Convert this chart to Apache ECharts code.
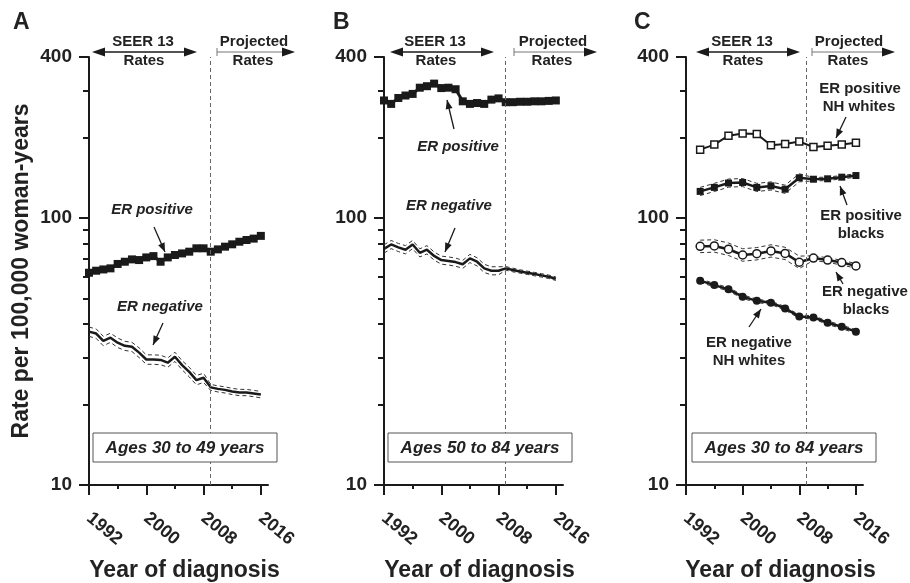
<!DOCTYPE html>
<html>
<head>
<meta charset="utf-8">
<title>ER positive / ER negative breast cancer incidence</title>
<script src="https://cdn.jsdelivr.net/npm/echarts@6/dist/echarts.min.js"></script>
<style>
  html, body { margin: 0; padding: 0; background: #fff; }
  #chart { width: 910px; height: 583px; }
</style>
</head>
<body>
<div id="chart"></div>
<script>
'use strict';

// x values
var yearsAB = [1992, 1993, 1994, 1995, 1996, 1997, 1998, 1999, 2000, 2001, 2002, 2003, 2004,
               2005, 2006, 2007, 2008, 2009, 2010, 2011, 2012, 2013, 2014, 2015, 2016];
var yearsC = [1994, 1996, 1998, 2000, 2002, 2004, 2006, 2008, 2010, 2012, 2014, 2016];

// tick labels
var xLabelYears = [1992, 2000, 2008, 2016];
var xMinorYears = [1996, 2004, 2012];
var yLabelValues = [10, 100, 400];
var yMinorValues = [20, 30, 40, 50, 60, 70, 80, 90, 200, 300];
var projectionStart = 2009;

// panel A: ages 30 to 49
var aPositive = [62.3, 63.4, 64.1, 64.7, 67.2, 68.5, 69.9, 69.5, 71.1, 71.9, 68.5, 71.1, 72.6,
                 73.6, 74.7, 76.9, 76.9, 74.7, 76.2, 78.0, 79.6, 81.4, 82.6, 83.6, 85.6];
var aNegative = [37.5, 36.9, 34.6, 35.6, 34.1, 33.2, 32.9, 31.3, 29.5, 29.5, 29.4, 28.7, 30.2,
                 28.1, 26.5, 24.7, 25.2, 23.2, 22.9, 22.7, 22.4, 22.2, 22.2, 22.0, 21.8];
var aNegativeUpper = [39.0, 38.4, 36.0, 37.0, 35.5, 34.5, 34.2, 32.6, 30.7, 30.7, 30.6, 29.9, 31.4,
                      29.2, 27.6, 25.7, 26.2, 23.8, 23.5, 23.3, 23.0, 22.8, 22.8, 22.6, 22.4];
var aNegativeLower = [36.0, 35.4, 33.2, 34.2, 32.7, 31.9, 31.6, 30.0, 28.3, 28.3, 28.2, 27.6, 29.0,
                      27.0, 25.4, 23.7, 24.2, 22.6, 22.3, 22.1, 21.8, 21.6, 21.6, 21.4, 21.2];

// panel B: ages 50 to 84
var bPositive = [275, 267, 281, 287, 291, 307, 311, 318, 306, 307, 303, 273, 267,
                 269, 267, 277, 280, 271, 271, 272, 272, 273, 273, 274, 275];
var bNegative = [76.5, 79.5, 77.5, 76.0, 79.5, 74.0, 76.0, 72.0, 69.5, 69.0, 68.3, 67.0, 70.5,
                 68.5, 64.7, 63.4, 63.4, 64.7, 63.8, 63.0, 62.3, 61.6, 60.9, 60.2, 59.2];
var bNegativeUpper = [79.2, 82.3, 80.2, 78.7, 82.3, 76.6, 78.7, 74.5, 71.9, 71.4, 70.7, 69.3, 73.0,
                      70.9, 67.0, 65.6, 65.6, 65.7, 64.8, 63.9, 63.2, 62.5, 61.8, 61.1, 60.1];
var bNegativeLower = [73.8, 76.7, 74.8, 73.3, 76.7, 71.4, 73.3, 69.5, 67.1, 66.6, 65.9, 64.7, 68.0,
                      66.1, 62.4, 61.2, 61.2, 63.7, 62.8, 62.1, 61.4, 60.7, 60.0, 59.3, 58.3];

// panel C: ages 30 to 84, by race
var cPosWhites = [180, 188, 203, 207, 206, 187, 189, 193, 184, 186, 188, 191];
var cPosBlacks = [125.6, 130.0, 135.0, 135.6, 130.0, 131.7, 128.0, 141.3, 139.5, 140.0, 142.0, 144.0];
var cPosBlacksUpper = [130.0, 134.6, 139.7, 140.3, 134.6, 136.3, 132.5, 146.2, 141.6, 142.1, 144.1, 146.2];
var cPosBlacksLower = [121.2, 125.5, 130.3, 130.9, 125.5, 127.1, 123.5, 136.4, 137.4, 137.9, 139.9, 141.8];
var cNegBlacks = [78.2, 78.5, 76.3, 72.6, 73.4, 75.2, 73.6, 68.2, 70.7, 69.5, 68.0, 66.1];
var cNegBlacksUpper = [82.5, 82.8, 80.5, 76.6, 77.4, 79.3, 77.6, 71.9, 72.1, 70.9, 69.4, 67.4];
var cNegBlacksLower = [74.1, 74.4, 72.3, 68.8, 69.6, 71.3, 69.8, 64.6, 69.3, 68.1, 66.6, 64.8];
var cNegWhites = [58.2, 56.0, 54.0, 50.7, 48.9, 48.1, 45.8, 42.7, 42.4, 40.5, 39.1, 37.5];
var cNegWhitesUpper = [59.1, 56.8, 54.8, 51.5, 49.6, 48.8, 46.5, 43.3, 43.0, 41.1, 39.7, 38.1];
var cNegWhitesLower = [57.3, 55.2, 53.2, 49.9, 48.2, 47.4, 45.1, 42.1, 41.8, 39.9, 38.5, 36.9];

var FONT = '"Liberation Sans", Arial, Helvetica, sans-serif';
var INK = '#1a1a1a';

var chart = echarts.init(document.getElementById('chart'), null, {renderer: 'canvas'});

function pairs(xs, ys) {
    return xs.map(function (x, i) { return [x, ys[i]]; });
}

// grid boxes of the three panels
var panels = [
    {left: 89, width: 179},
    {left: 384, width: 179},
    {left: 686, width: 177}
];

var grids = [], xAxes = [], yAxes = [];
panels.forEach(function (p, k) {
    grids.push({left: p.left, width: p.width, top: 57, height: 428, outerBoundsMode: 'none'});
    // main x axis: line, long ticks, labels
    xAxes.push({
        type: 'value', gridIndex: k, position: 'bottom', min: 1992, max: 2017, interval: 4,
        axisLine: {show: true, onZero: false, lineStyle: {color: INK, width: 2}},
        axisTick: {show: true, length: 10, customValues: xLabelYears, lineStyle: {color: INK, width: 2}},
        axisLabel: {
            customValues: xLabelYears, rotate: -40, margin: 31, color: '#222',
            fontSize: 18, fontWeight: 'bold', fontFamily: FONT,
            formatter: function (v) { return String(v); }
        },
        splitLine: {show: false},
        name: 'Year of diagnosis', nameLocation: 'middle', nameGap: 74, nameMoveOverlap: false,
        nameTextStyle: {fontSize: 23, fontWeight: 'bold', color: '#222', fontFamily: FONT, padding: [0, 0, 0, 12]}
    });
    // short ticks only
    xAxes.push({
        type: 'value', gridIndex: k, position: 'bottom', min: 1992, max: 2017, interval: 4,
        axisLine: {show: false},
        axisTick: {show: true, length: 4, customValues: xMinorYears, lineStyle: {color: INK, width: 2}},
        axisLabel: {show: false},
        splitLine: {show: false}
    });
    var yMain = {
        type: 'log', logBase: 10, gridIndex: k, position: 'left', min: 10, max: 400,
        axisLine: {show: true, onZero: false, lineStyle: {color: INK, width: 2}},
        axisTick: {show: true, length: 10, customValues: yLabelValues, lineStyle: {color: INK, width: 2}},
        axisLabel: {
            customValues: yLabelValues, margin: 17, color: '#222',
            fontSize: 19, fontWeight: 'bold', fontFamily: FONT
        },
        splitLine: {show: false}
    };
    if (k === 0) {
        yMain.name = 'Rate per 100,000 woman-years';
        yMain.nameLocation = 'middle';
        yMain.nameGap = 56;
        yMain.nameMoveOverlap = false;
        yMain.nameTextStyle = {fontSize: 23, fontWeight: 'bold', color: '#222', fontFamily: FONT};
    }
    yAxes.push(yMain);
    yAxes.push({
        type: 'log', logBase: 10, gridIndex: k, position: 'left', min: 10, max: 400,
        axisLine: {show: false},
        axisTick: {show: true, length: 6, customValues: yMinorValues, lineStyle: {color: INK, width: 2}},
        axisLabel: {show: false},
        splitLine: {show: false}
    });
});

var projLine = {
    silent: true, symbol: 'none', label: {show: false},
    lineStyle: {type: [4, 3], color: '#666', width: 1},
    data: [{xAxis: projectionStart}]
};

function markerLine(k, xs, ys, symbol, size, filled, width) {
    return {
        type: 'line', xAxisIndex: 2 * k, yAxisIndex: 2 * k, z: 4,
        data: pairs(xs, ys), symbol: symbol, symbolSize: size, showSymbol: true,
        lineStyle: {color: INK, width: width},
        itemStyle: filled ? {color: INK} : {color: '#fff', borderColor: INK, borderWidth: 1.5},
        silent: true
    };
}
function plainLine(k, xs, ys, width) {
    return {
        type: 'line', xAxisIndex: 2 * k, yAxisIndex: 2 * k, z: 4,
        data: pairs(xs, ys), symbol: 'none', lineStyle: {color: INK, width: width}, silent: true
    };
}
function ciLine(k, xs, ys) {
    return {
        type: 'line', xAxisIndex: 2 * k, yAxisIndex: 2 * k, z: 3,
        data: pairs(xs, ys), symbol: 'none', lineStyle: {color: '#333', width: 1, type: [4, 3]}, silent: true
    };
}

var series = [];
// A
var aLow = ciLine(0, yearsAB, aNegativeLower);
aLow.markLine = projLine;
series.push(aLow, ciLine(0, yearsAB, aNegativeUpper),
    plainLine(0, yearsAB, aNegative, 2.5),
    markerLine(0, yearsAB, aPositive, 'rect', 8, true, 3));
// B
var bLow = ciLine(1, yearsAB, bNegativeLower);
bLow.markLine = projLine;
series.push(bLow, ciLine(1, yearsAB, bNegativeUpper),
    plainLine(1, yearsAB, bNegative, 2.5),
    markerLine(1, yearsAB, bPositive, 'rect', 8, true, 3));
// C
var cLow = ciLine(2, yearsC, cNegBlacksLower);
cLow.markLine = projLine;
series.push(cLow, ciLine(2, yearsC, cNegBlacksUpper),
    ciLine(2, yearsC, cPosBlacksLower), ciLine(2, yearsC, cPosBlacksUpper),
    ciLine(2, yearsC, cNegWhitesLower), ciLine(2, yearsC, cNegWhitesUpper),
    markerLine(2, yearsC, cPosWhites, 'rect', 7, false, 2),
    markerLine(2, yearsC, cPosBlacks, 'rect', 7, true, 2.5),
    markerLine(2, yearsC, cNegBlacks, 'circle', 8, false, 2.5),
    markerLine(2, yearsC, cNegWhites, 'circle', 8, true, 2.5));

// ---- annotations ----
function text(x, y, str, size, italic, align) {
    return {
        type: 'text', x: x, y: y, silent: true, z: 10,
        style: {
            text: str, fill: '#222', fontSize: size, fontWeight: 'bold',
            fontStyle: italic ? 'italic' : 'normal', fontFamily: FONT,
            align: align || 'center', verticalAlign: 'middle'
        }
    };
}
function head(tx, ty, fx, fy, len, half, color) {
    var dx = tx - fx, dy = ty - fy, d = Math.sqrt(dx * dx + dy * dy);
    var ux = dx / d, uy = dy / d;
    var bx = tx - ux * len, by = ty - uy * len;
    return {
        type: 'polygon', silent: true, z: 10,
        shape: {points: [[tx, ty], [bx - uy * half, by + ux * half], [bx + uy * half, by - ux * half]]},
        style: {fill: color || INK}
    };
}
function seg(x1, y1, x2, y2, w, color) {
    return {
        type: 'line', silent: true, z: 10,
        shape: {x1: x1, y1: y1, x2: x2, y2: y2},
        style: {stroke: color || INK, lineWidth: w}
    };
}
function arrow(x1, y1, x2, y2) {
    return [seg(x1, y1, x2, y2, 1.3), head(x2, y2, x1, y1, 9, 3.5)];
}
function periodArrows(seerL, seerR, projL, projR, seerX, projX) {
    return [
        seg(seerL + 8, 52, seerR - 8, 52, 1.5),
        head(seerL, 52, seerR, 52, 13, 4.5),
        head(seerR, 52, seerL, 52, 13, 4.5),
        seg(projL, 48, projL, 56, 1, '#777'),
        seg(projL, 52, projR - 8, 52, 1.2, '#777'),
        head(projR, 52, projL, 52, 13, 4.5),
        text(seerX, 42, 'SEER 13', 15, false),
        text(seerX + 1, 61, 'Rates', 15, false),
        text(projX, 42, 'Projected', 15, false),
        text(projX - 1, 61, 'Rates', 15, false)
    ];
}
function ageBox(x, label) {
    return [
        {type: 'rect', silent: true, z: 9, shape: {x: x, y: 433, width: 184, height: 29},
         style: {fill: '#fff', stroke: '#555', lineWidth: 1}},
        text(x + 92, 448, label, 17, true)
    ];
}

var graphics = [].concat(
    text(13, 23, 'A', 23, false, 'left'),
    text(333, 23, 'B', 23, false, 'left'),
    text(634, 23, 'C', 23, false, 'left'),
    periodArrows(92, 197, 217, 295, 143, 254),
    periodArrows(390, 494, 514, 597, 435, 553),
    periodArrows(696, 800, 812, 895, 742, 849),
    ageBox(93, 'Ages 30 to 49 years'),
    ageBox(388, 'Ages 50 to 84 years'),
    ageBox(692, 'Ages 30 to 84 years'),
    // panel A
    text(152, 210, 'ER positive', 15, true), arrow(154, 227, 165, 252),
    text(160, 307, 'ER negative', 15, true), arrow(163, 323, 153, 345),
    // panel B
    text(458, 147, 'ER positive', 15, true), arrow(454, 129, 447, 100),
    text(449, 206, 'ER negative', 15, true), arrow(455, 228, 445, 252),
    // panel C
    text(860, 89, 'ER positive', 15, false), text(859, 107, 'NH whites', 15, false),
    arrow(846, 117, 836, 138),
    text(861, 216, 'ER positive', 15, false), text(861, 234, 'blacks', 15, false),
    arrow(847, 205, 840, 186),
    text(865, 292, 'ER negative', 15, false), text(866, 310, 'blacks', 15, false),
    arrow(843, 284, 836, 272),
    text(749, 343, 'ER negative', 15, false), text(749, 361, 'NH whites', 15, false),
    arrow(749, 327, 761, 309)
);

chart.setOption({
    animation: false,
    backgroundColor: '#fff',
    textStyle: {fontFamily: FONT},
    grid: grids,
    xAxis: xAxes,
    yAxis: yAxes,
    series: series,
    graphic: {elements: graphics}
});
</script>
</body>
</html>
